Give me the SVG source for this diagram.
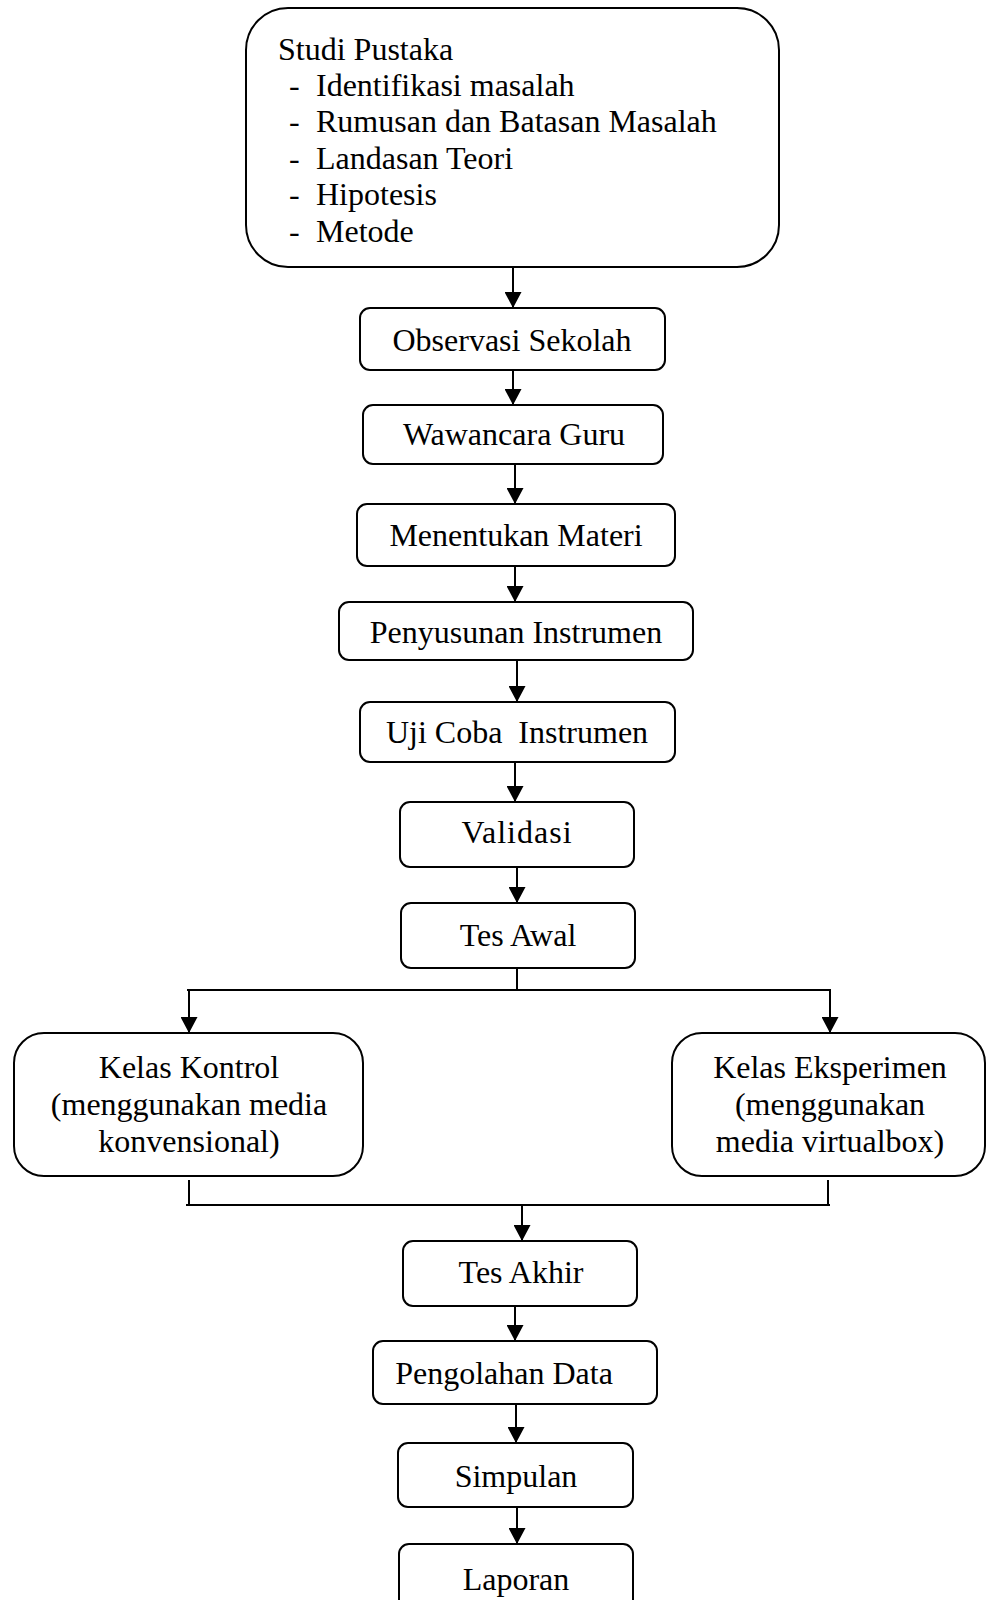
<svg xmlns="http://www.w3.org/2000/svg" width="986" height="1600" viewBox="0 0 986 1600">
<style>
.box{fill:#fff;stroke:#000;stroke-width:2}
.t{font-family:"Liberation Serif","Times New Roman",serif;font-size:32px;fill:#000}
.c{text-anchor:middle}
.ln{fill:none;stroke:#000;stroke-width:2}
.ar{fill:none;stroke:#000;stroke-width:2;marker-end:url(#ah)}
</style>
<defs>
<marker id="ah" markerUnits="userSpaceOnUse" viewBox="0 0 16 17" markerWidth="16" markerHeight="17" refX="16" refY="8.5" orient="auto">
<path d="M0,0 L16,8.5 L0,17 z" fill="#000"/>
</marker>
</defs>
<rect width="986" height="1600" fill="#fff"/>
<g id="connectors">
<line class="ar" x1="513" y1="267" x2="513" y2="308"/>
<line class="ar" x1="513" y1="370" x2="513" y2="405"/>
<line class="ar" x1="515" y1="464" x2="515" y2="504"/>
<line class="ar" x1="515" y1="566" x2="515" y2="602"/>
<line class="ar" x1="517" y1="660" x2="517" y2="702"/>
<line class="ar" x1="515" y1="762" x2="515" y2="802"/>
<line class="ar" x1="517" y1="867" x2="517" y2="903"/>
<line class="ln" x1="517" y1="968" x2="517" y2="990"/>
<line class="ln" x1="187" y1="990" x2="831" y2="990"/>
<line class="ar" x1="189" y1="990" x2="189" y2="1033"/>
<line class="ar" x1="830" y1="990" x2="830" y2="1033"/>
<line class="ln" x1="189" y1="1180" x2="189" y2="1205"/>
<line class="ln" x1="828" y1="1180" x2="828" y2="1205"/>
<line class="ln" x1="186" y1="1205" x2="830" y2="1205"/>
<line class="ar" x1="522" y1="1205" x2="522" y2="1241"/>
<line class="ar" x1="515" y1="1306" x2="515" y2="1341"/>
<line class="ar" x1="516" y1="1404" x2="516" y2="1443"/>
<line class="ar" x1="517" y1="1507" x2="517" y2="1544"/>
</g>
<g id="studi-pustaka">
<rect class="box" x="246" y="8" width="533" height="259" rx="42"/>
<text class="t" x="278" y="60">Studi Pustaka</text>
<text class="t" x="289" y="96">-</text><text class="t" x="316" y="96">Identifikasi masalah</text>
<text class="t" x="289" y="132">-</text><text class="t" x="316" y="132">Rumusan dan Batasan Masalah</text>
<text class="t" x="289" y="169">-</text><text class="t" x="316" y="169">Landasan Teori</text>
<text class="t" x="289" y="205">-</text><text class="t" x="316" y="205">Hipotesis</text>
<text class="t" x="289" y="242">-</text><text class="t" x="316" y="242">Metode</text>
</g>
<g id="observasi">
<rect class="box" x="360" y="308" width="305" height="62" rx="10"/>
<text class="t c" x="512" y="351">Observasi Sekolah</text>
</g>
<g id="wawancara">
<rect class="box" x="363" y="405" width="300" height="59" rx="10"/>
<text class="t c" x="514" y="445">Wawancara Guru</text>
</g>
<g id="menentukan">
<rect class="box" x="357" y="504" width="318" height="62" rx="10"/>
<text class="t c" x="516" y="546">Menentukan Materi</text>
</g>
<g id="penyusunan">
<rect class="box" x="339" y="602" width="354" height="58" rx="10"/>
<text class="t c" x="516" y="643">Penyusunan Instrumen</text>
</g>
<g id="ujicoba">
<rect class="box" x="360" y="702" width="315" height="60" rx="10"/>
<text class="t c" x="517" y="743" xml:space="preserve">Uji Coba  Instrumen</text>
</g>
<g id="validasi">
<rect class="box" x="400" y="802" width="234" height="65" rx="10"/>
<text class="t c" x="517" y="843" letter-spacing="1">Validasi</text>
</g>
<g id="tes-awal">
<rect class="box" x="401" y="903" width="234" height="65" rx="10"/>
<text class="t c" x="518" y="946">Tes Awal</text>
</g>
<g id="kelas-kontrol">
<rect class="box" x="14" y="1033" width="349" height="143" rx="30"/>
<text class="t c" x="189" y="1078">Kelas Kontrol</text>
<text class="t c" x="189" y="1115">(menggunakan media</text>
<text class="t c" x="189" y="1152">konvensional)</text>
</g>
<g id="kelas-eksperimen">
<rect class="box" x="672" y="1033" width="313" height="143" rx="30"/>
<text class="t c" x="830" y="1078">Kelas Eksperimen</text>
<text class="t c" x="830" y="1115">(menggunakan</text>
<text class="t c" x="830" y="1152">media virtualbox)</text>
</g>
<g id="tes-akhir">
<rect class="box" x="403" y="1241" width="234" height="65" rx="10"/>
<text class="t c" x="521" y="1283">Tes Akhir</text>
</g>
<g id="pengolahan">
<rect class="box" x="373" y="1341" width="284" height="63" rx="10"/>
<text class="t c" x="504" y="1384">Pengolahan Data</text>
</g>
<g id="simpulan">
<rect class="box" x="398" y="1443" width="235" height="64" rx="10"/>
<text class="t c" x="516" y="1487">Simpulan</text>
</g>
<g id="laporan">
<rect class="box" x="399" y="1544" width="234" height="80" rx="10"/>
<text class="t c" x="516" y="1590">Laporan</text>
</g>
</svg>
